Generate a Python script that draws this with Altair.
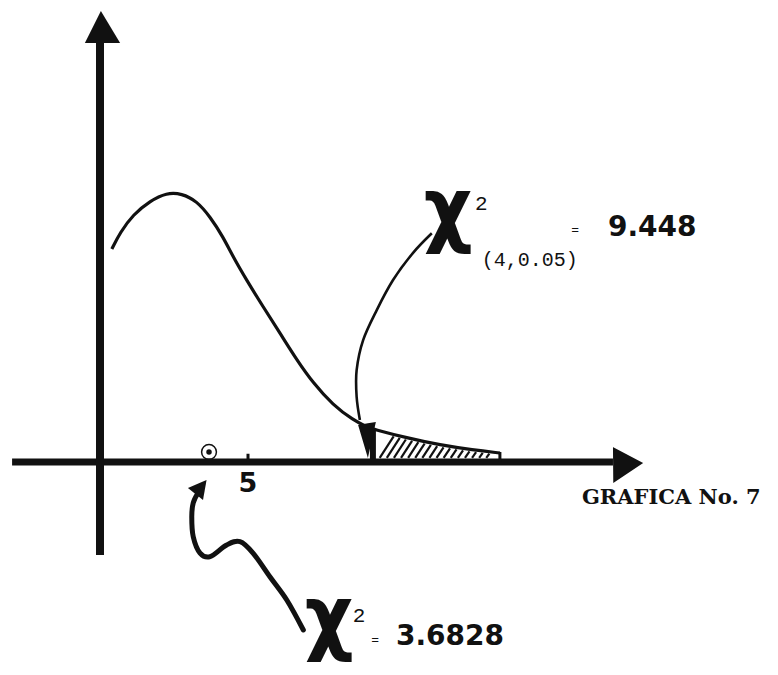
import altair as alt
import pandas as pd
import numpy as np

# ---------------- data ----------------
# x in chi-square units (tick "5" marked), y in density units
curve_x = [0.40, 0.68, 1.12, 1.69, 2.25, 2.76, 3.27, 3.72, 4.16, 4.49, 4.96, 5.51,
           6.08, 6.65, 7.20, 7.87, 8.55, 9.02, 9.22, 10.37, 11.49, 12.60, 13.51]
curve_y = [0.142, 0.153, 0.165, 0.1740, 0.1795, 0.1790, 0.1740, 0.1635, 0.150, 0.137,
           0.121, 0.1035, 0.086, 0.068, 0.0527, 0.038, 0.028, 0.0233, 0.0220, 0.016,
           0.0113, 0.008, 0.006]

shade_from = 9.40      # start of hatched rejection region
shade_to = 13.51       # end of region

# annotation arrow towards critical value 9.448
arrow1_x = [11.21, 10.57, 9.90, 9.35, 8.89, 8.67, 8.67, 8.78]
arrow1_y = [0.1525, 0.1393, 0.1213, 0.1013, 0.0813, 0.0613, 0.0435, 0.028]
# annotation arrow towards observed value 3.6828
arrow2_x = [6.87, 6.31, 5.74, 5.17, 4.73, 4.28, 3.72, 3.38, 3.15, 3.10, 3.15, 3.31]
arrow2_y = [-0.112, -0.092, -0.0765, -0.0607, -0.0531, -0.0553, -0.0631, -0.0607,
            -0.0498, -0.0365, -0.0273, -0.0207]

# arrow heads (triangles)
heads = {
    "yaxis": [(-0.51, 0.2793), (0.68, 0.2793), (0.03, 0.3007)],
    "xaxis": [(17.33, 0.010), (17.34, -0.014), (18.35, -0.0007)],
    "arrow1": [(8.72, 0.0247), (9.32, 0.0267), (9.05, 0.0027)],
    "arrow2": [(2.97, -0.0173), (3.48, -0.0253), (3.60, -0.012)],
}

# axes
xaxis_from, xaxis_to = -2.97, 17.33
yaxis_from, yaxis_to = -0.062, 0.2793
tick_value = 5
observed = 3.6828
observed_mark_y = 0.0067

# texts: (text, x, y)
chi_texts = [("χ", 11.76, 0.150), ("χ", 7.74, -0.1220)]
sup_texts = [("2", 12.88, 0.168), ("2", 8.75, -0.1067)]
eq_texts = [("=", 16.05, 0.1547), ("=", 9.30, -0.119)]
sub_texts = [("(4,0.05)", 12.90, 0.1307)]
val_texts = [("9.448", 17.16, 0.1507), ("3.6828", 10.0, -0.122)]
tick_texts = [("5", 5.0, -0.020)]
title_texts = [("GRAFICA No. 7", 16.28, -0.028)]

# ---------------- build tables ----------------
X = alt.Scale(domain=[-3.108, 22.635])
Y = alt.Scale(domain=[-0.13667, 0.30267])


def tri_rows(name, pts):
    p = sorted(pts, key=lambda t: t[0])
    (x0, y0), (x1, y1), (x2, y2) = p
    yi = y0 + (y2 - y0) * (x1 - x0) / (x2 - x0) if x2 != x0 else y0
    return [
        {"id": name, "x": x0, "y": y0, "y2": y0},
        {"id": name, "x": x1, "y": y1, "y2": yi},
        {"id": name, "x": x2, "y": y2, "y2": y2},
    ]


tri_df = pd.DataFrame([r for k, v in heads.items() for r in tri_rows(k, v)])

curve_df = pd.DataFrame({"x": curve_x, "y": curve_y})
a1_df = pd.DataFrame({"x": arrow1_x, "y": arrow1_y, "o": range(len(arrow1_x))})
a2_df = pd.DataFrame({"x": arrow2_x, "y": arrow2_y, "o": range(len(arrow2_x))})

# hatch strokes inside the rejection region
k = 1.6 * 29.6 / 1500.0
hatch = []
for u0 in np.arange(shade_from + 0.05, shade_to - 0.35, 0.24):
    u1 = u0
    for _ in range(30):
        u1 = u0 + (np.interp(u1, curve_x, curve_y) - 0.0035) / k
    hatch.append({"x": u0, "y": 0.0028, "x2": u1,
                  "y2": np.interp(u1, curve_x, curve_y) - 0.0012})
hatch_df = pd.DataFrame(hatch)

axis_df = pd.DataFrame([{"x": xaxis_from, "x2": xaxis_to, "y": 0.0}])
yaxis_df = pd.DataFrame([{"x": 0.0, "y": yaxis_from, "y2": yaxis_to}])
small_df = pd.DataFrame([
    {"x": tick_value, "y": 0.0, "y2": 0.0055},
    {"x": shade_to, "y": 0.0, "y2": 0.0067},
])
blob_df = pd.DataFrame([{"x": 9.22, "y": 0.002, "y2": 0.022}])
obs_df = pd.DataFrame({"x": [observed], "y": [observed_mark_y]})


def tdf(rows):
    return pd.DataFrame(rows, columns=["t", "x", "y"])


enc = dict(x=alt.X("x:Q", scale=X, axis=None), y=alt.Y("y:Q", scale=Y, axis=None))

INK = "#111111"

layers = []
# axes
layers.append(alt.Chart(axis_df).mark_rule(color=INK, strokeWidth=7).encode(
    x=alt.X("x:Q", scale=X, axis=None), x2="x2:Q", y=alt.Y("y:Q", scale=Y, axis=None)))
layers.append(alt.Chart(yaxis_df).mark_rule(color=INK, strokeWidth=8).encode(
    x=alt.X("x:Q", scale=X, axis=None), y=alt.Y("y:Q", scale=Y, axis=None), y2="y2:Q"))
layers.append(alt.Chart(small_df).mark_rule(color=INK, strokeWidth=3).encode(
    x=alt.X("x:Q", scale=X, axis=None), y=alt.Y("y:Q", scale=Y, axis=None), y2="y2:Q"))
layers.append(alt.Chart(blob_df).mark_rule(color=INK, strokeWidth=6).encode(
    x=alt.X("x:Q", scale=X, axis=None), y=alt.Y("y:Q", scale=Y, axis=None), y2="y2:Q"))
# hatch
layers.append(alt.Chart(hatch_df).mark_rule(color=INK, strokeWidth=2.2).encode(
    x=alt.X("x:Q", scale=X, axis=None), y=alt.Y("y:Q", scale=Y, axis=None),
    x2="x2:Q", y2="y2:Q"))
# curve
layers.append(alt.Chart(curve_df).mark_line(color=INK, strokeWidth=3.2,
                                            interpolate="basis").encode(**enc))
# arrows
layers.append(alt.Chart(a1_df).mark_line(color=INK, strokeWidth=2.6,
                                         interpolate="cardinal").encode(order="o:Q", **enc))
layers.append(alt.Chart(a2_df).mark_line(color=INK, strokeWidth=5, strokeCap="round",
                                         interpolate="cardinal").encode(order="o:Q", **enc))
# arrow heads
layers.append(alt.Chart(tri_df).mark_area(color=INK, opacity=1).encode(
    x=alt.X("x:Q", scale=X, axis=None), y=alt.Y("y:Q", scale=Y, axis=None),
    y2="y2:Q", detail="id:N"))
# observed marker
layers.append(alt.Chart(obs_df).mark_point(shape="circle", size=220, filled=False,
                                           color=INK, strokeWidth=1.5, opacity=1).encode(**enc))
layers.append(alt.Chart(obs_df).mark_point(shape="circle", size=30, filled=True,
                                           color=INK, opacity=1).encode(**enc))

# texts
layers.append(alt.Chart(tdf(chi_texts)).mark_text(
    font="DejaVu Sans Condensed", fontWeight="bold", fontSize=84, baseline="alphabetic",
    align="center", color=INK).encode(text="t:N", **enc))
layers.append(alt.Chart(tdf(sup_texts)).mark_text(
    font="Liberation Mono", fontSize=21, baseline="alphabetic", align="center",
    color=INK).encode(text="t:N", **enc))
layers.append(alt.Chart(tdf(eq_texts)).mark_text(
    font="Liberation Mono", fontSize=13, baseline="middle", align="center",
    color=INK).encode(text="t:N", **enc))
layers.append(alt.Chart(tdf(sub_texts)).mark_text(
    font="Liberation Mono", fontSize=20, baseline="alphabetic", align="left",
    color=INK).encode(text="t:N", **enc))
layers.append(alt.Chart(tdf(val_texts)).mark_text(
    font="DejaVu Sans", fontWeight="bold", fontSize=28, baseline="alphabetic",
    align="left", color=INK).encode(text="t:N", **enc))
layers.append(alt.Chart(tdf(tick_texts)).mark_text(
    font="DejaVu Sans", fontWeight="bold", fontSize=27, baseline="alphabetic",
    align="center", color=INK).encode(text="t:N", **enc))
layers.append(alt.Chart(tdf(title_texts)).mark_text(
    font="DejaVu Serif", fontWeight="bold", fontSize=21, baseline="alphabetic",
    align="left", color=INK).encode(text="t:N", **enc))

chart = alt.layer(*layers).properties(
    width=762, height=659, padding=0, autosize=alt.AutoSizeParams(type="none"),
    background="white",
).configure_view(stroke=None)

chart.save("out.html", embed_options={"renderer": "svg", "actions": False})
